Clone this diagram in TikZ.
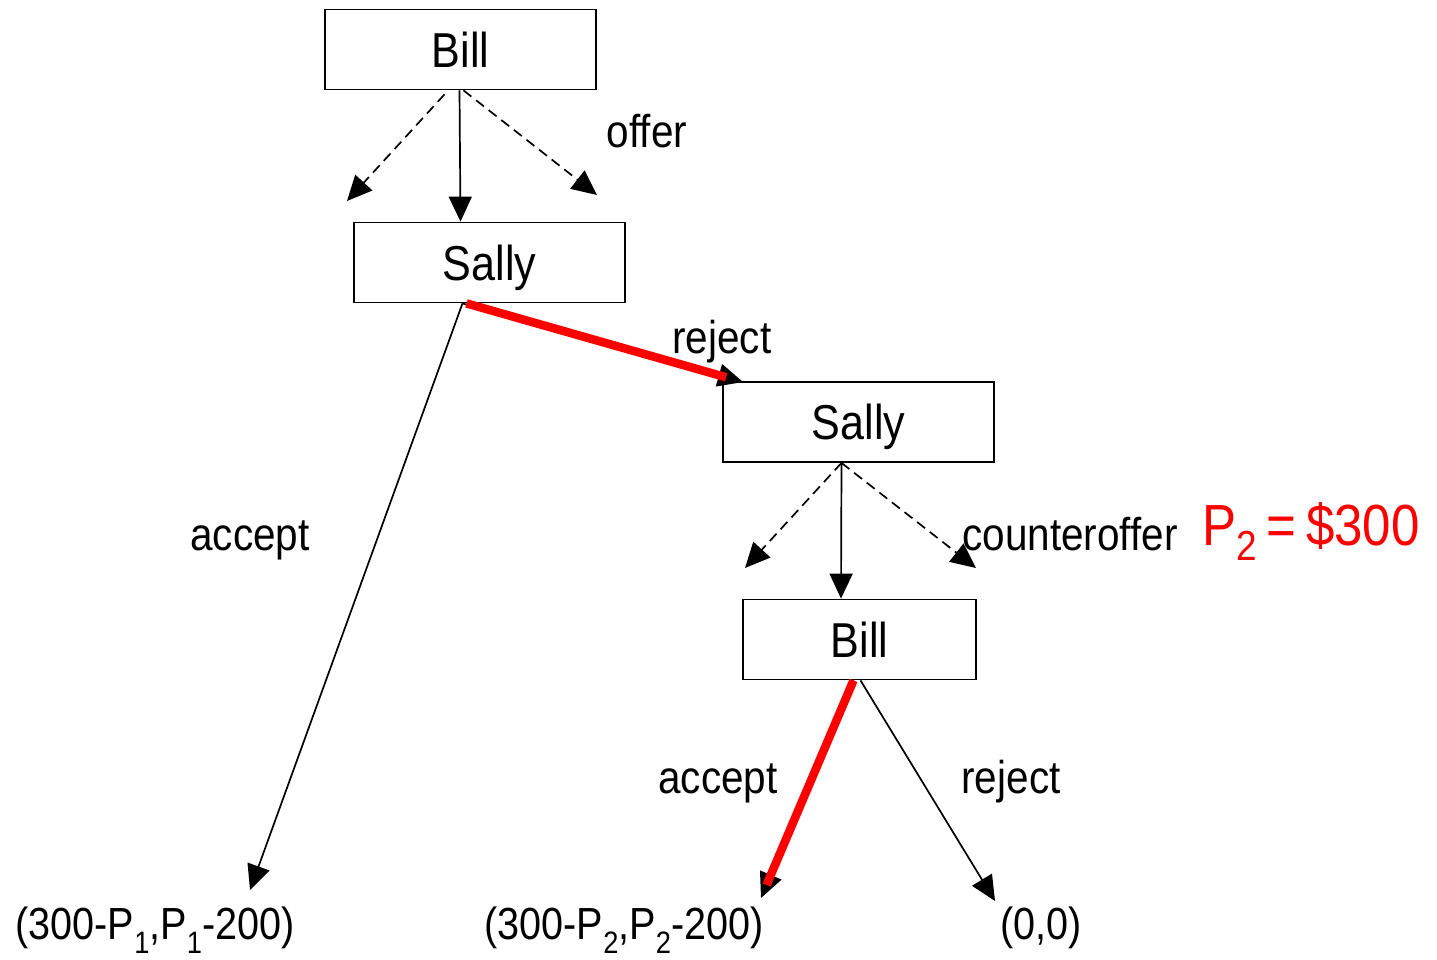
\documentclass[tikz,border=0pt]{standalone}
\usepackage{fontspec}
\setmainfont{Liberation Sans}[FakeStretch=0.88]
\usetikzlibrary{arrows.meta,calc}
% lowered index for prices P_1, P_2
\newcommand\lowidx[3]{\raisebox{-#2pt}{\fontsize{#3}{#3}\selectfont #1}}
\begin{document}
\begin{tikzpicture}[x=1pt,y=-1pt,
  big/.style={font=\fontsize{46}{52}\selectfont},
  player/.style={font=\fontsize{49}{55}\selectfont, draw, line width=1.8pt,
    minimum width=271pt, minimum height=80pt, inner sep=0pt,
    text height=35pt, text depth=0pt},
  lbl/.style={big, inner sep=0pt, anchor=base},
  move/.style={line width=1.7pt, -{Triangle[length=25pt,width=23pt]}},
  guess/.style={move, dash pattern=on 10pt off 6pt},
  chosen/.style={red, line width=8.5pt}]
\useasboundingbox (0,0) rectangle (1437,959);

% decision nodes
\node[player] (b1) at (460.5,49.5) {Bill};
\node[player] (s1) at (489.5,262.5) {Sally};
\node[player] (s2) at (858.5,422) {Sally};
\node[player, minimum width=233pt] (b2) at (859.5,639.5) {Bill};

% free ends of the moves
\coordinate (b1l) at (347,201);
\coordinate (b1r) at (597,195);
\coordinate (s2l) at (745,568);
\coordinate (s2r) at (976,568);
\coordinate (s2in) at (743,382);
\coordinate (s1acc) at (250,890);
\coordinate (b2acc) at (761,898);
\coordinate (b2rej) at (995,901);
\coordinate (s2col) at (841,0);

% Bill's offer
\draw[guess] (b1.south) ++(-16,4) -- (b1l);
\draw[guess] (b1.south) ++(3,0) -- (b1r);
\draw[move] (b1.south) ++(-1,0) -- (s1.north -| b1.south);

% Sally's response
\draw[move] (s1.south) ++(-27,0) coordinate (s1o) -- (s1acc);
\draw[move] (s1o) -- (s2in);
\draw[chosen] (s1o) ++(4,0) -- ($(s1o)!0.94!(s2in)$);

% Sally's counteroffer
\draw[guess] (s2.south) ++(-17,0) -- (s2l);
\draw[guess] (s2.south) ++(-17,0) -- (s2r);
\draw[move] (s2.south) ++(-17,0) -- (s2col |- b2.north);

% Bill's response
\draw[move] (b2.south) ++(-6,0) coordinate (b2o) -- (b2acc);
\draw[move] (b2.south) ++(1,0) -- (b2rej);
\draw[chosen] (b2o) -- ($(b2o)!0.94!(b2acc)$);

% move labels
\node[lbl] (loffer) at (647,147) {offer};
\node[lbl] (lrej1) at (722,353) {reject};
\node[lbl] (lacc1) at (250,550) {accept};
\node[lbl] (lcnt) at (1070,550) {counteroffer};
\node[lbl, red, font=\fontsize{58}{62}\selectfont] (lprice) at (1311,545)
  {P\lowidx{2}{15}{42}\,=\,\$300};
\node[lbl] (lacc2) at (718,793) {accept};
\node[lbl] (lrej2) at (1011,793) {reject};

% payoffs
\begin{scope}[lbl/.append style={font=\fontsize{45}{50}\selectfont}]
\node[lbl] (pay1) at (155,939) {(300-P\lowidx{1}{14}{31},P\lowidx{1}{14}{31}-200)};
\node[lbl] (pay2) at (624,939) {(300-P\lowidx{2}{14}{31},P\lowidx{2}{14}{31}-200)};
\node[lbl] (pay3) at (1041,939) {(0,0)};
\end{scope}
\end{tikzpicture}
\end{document}
